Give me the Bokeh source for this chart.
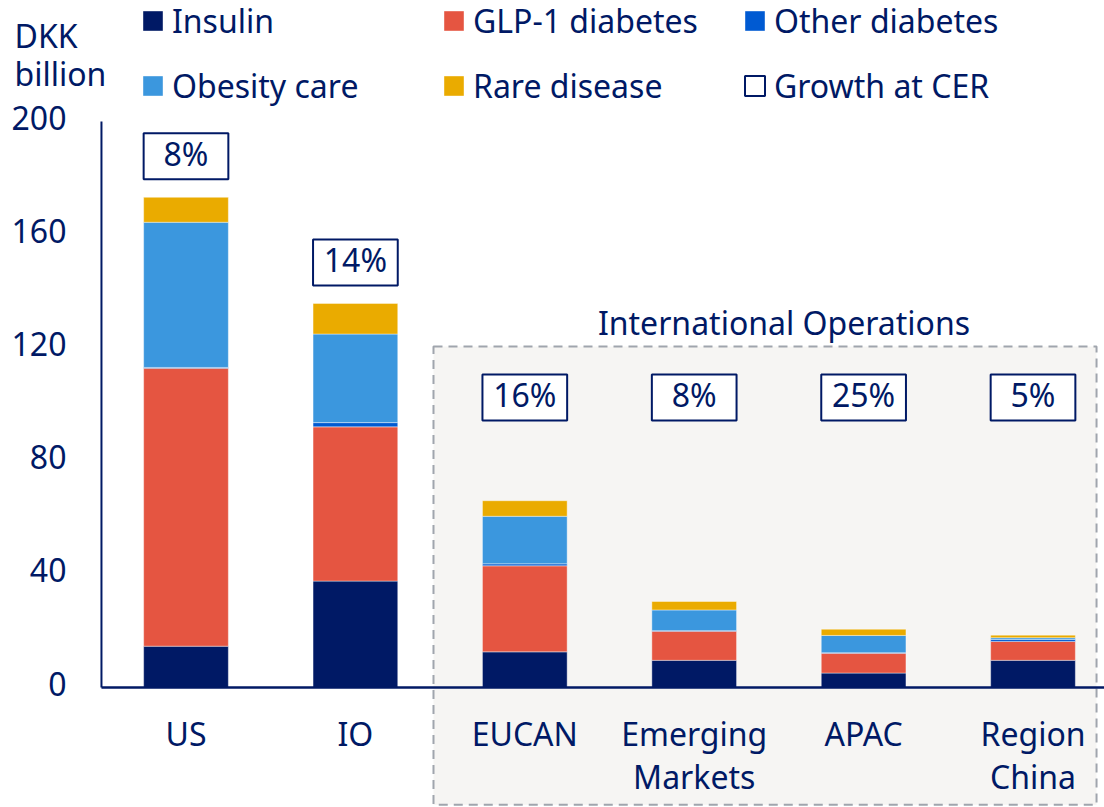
from bokeh.plotting import figure
from bokeh.models import Range1d, ColumnDataSource, Legend, LegendItem
from bokeh.embed import file_html
from bokeh.resources import INLINE
from bokeh.core.properties import value

# ---- data ----
categories = ["US", "IO", "EUCAN", "Emerging\nMarkets", "APAC", "Region\nChina"]
insulin = [14.6, 37.6, 12.6, 9.6, 5.1, 9.6]
glp1_diabetes = [98.2, 54.5, 30.4, 10.3, 7.0, 6.7]
other_diabetes = [0.3, 1.5, 0.7, 0.2, 0.2, 0.7]
obesity_care = [51.3, 31.3, 16.8, 7.3, 6.1, 0.6]
rare_disease = [8.8, 10.8, 5.5, 3.0, 2.2, 0.9]
growth_cer = ["8%", "14%", "16%", "8%", "25%", "5%"]
y_ticks = [0, 40, 80, 120, 160, 200]
y_unit = ["DKK", "billion"]
series_names = ["Insulin", "GLP-1 diabetes", "Other diabetes", "Obesity care", "Rare disease"]
growth_name = "Growth at CER"
region_title = "International Operations"

# ---- style ----
NAVY = "#001965"
COLORS = ["#001965", "#E55541", "#005AD2", "#3B97DE", "#EAAB00"]
FONT = "Noto Sans"
FS = "32px"

xs = list(range(len(categories)))
totals = [a + b + c + d + e for a, b, c, d, e in
          zip(insulin, glp1_diabetes, other_diabetes, obesity_care, rare_disease)]
# growth boxes: above bar for US/IO, on a fixed row inside International Operations
growth_y = [t + 14.5 if i < 2 else 102.5 for i, t in enumerate(totals)]
line1 = [c.split("\n")[0] for c in categories]
line2 = [c.split("\n")[1] if "\n" in c else "" for c in categories]

src = ColumnDataSource(dict(x=xs, ins=insulin, glp=glp1_diabetes, oth=other_diabetes,
                            obe=obesity_care, rar=rare_disease, gy=growth_y,
                            g=growth_cer, l1=line1, l2=line2))

W, H = 1104, 807
X0, X1 = -1.095, 5.422        # frame spans the full width
Y0, Y1 = -42.40, 242.76       # frame spans the full height
AX = -0.499                   # position of the value axis (left edge of plot area)

p = figure(width=W, height=H, output_backend="svg", toolbar_location=None,
           x_range=Range1d(X0, X1), y_range=Range1d(Y0, Y1),
           x_axis_location=None, y_axis_location=None,
           min_border_left=0, min_border_right=0, min_border_top=0, min_border_bottom=0)
p.outline_line_color = None
p.grid.visible = False
p.background_fill_color = "white"
p.border_fill_color = "white"

# International Operations region
p.quad(left=1.461, right=5.375, top=120.5, bottom=-41.4, fill_color="#F6F5F3",
       line_color="#A0A5AD", line_dash="9 6", line_width=2)
p.text(x=[3.53], y=[129.0], text=[region_title], text_align="center",
       text_baseline="alphabetic", text_font=value(FONT), text_font_size=FS, text_color=NAVY)

# stacked bars
rs = p.vbar_stack(["ins", "glp", "oth", "obe", "rar"], x="x", width=0.5, color=COLORS,
                  source=src, line_color="white", line_width=0.8, line_alpha=0.5)

# growth boxes
gr = p.rect(x="x", y="gy", width=0.5, height=46, height_units="screen", fill_color="white",
            line_color=NAVY, line_width=2, source=src)
p.text(x="x", y="gy", text="g", text_align="center", text_baseline="middle", y_offset=-3,
       text_font=value(FONT), text_font_size=FS, text_color=NAVY, source=src)

# category labels
p.text(x="x", y=-16.3, text="l1", text_align="center", text_baseline="alphabetic",
       text_font=value(FONT), text_font_size=FS, text_color=NAVY, source=src)
p.text(x="x", y=-31.5, text="l2", text_align="center", text_baseline="alphabetic",
       text_font=value(FONT), text_font_size=FS, text_color=NAVY, source=src)

# axes lines
p.segment(x0=[AX], y0=[0], x1=[X1], y1=[0], line_color=NAVY, line_width=2.5)
p.segment(x0=[AX], y0=[min(y_ticks)], x1=[AX], y1=[max(y_ticks)], line_color=NAVY,
          line_width=2)
# value axis tick labels
p.text(x=[AX] * len(y_ticks), y=y_ticks, text=[str(t) for t in y_ticks], x_offset=-35,
       y_offset=-4, text_align="right", text_baseline="middle", text_font=value(FONT),
       text_font_size=FS, text_color=NAVY)
# unit label
p.text(x=[-1.012, -1.012], y=[230.4, 217.0], text=y_unit, text_align="left",
       text_baseline="alphabetic", text_font=value(FONT), text_font_size=FS,
       text_color=NAVY)

# legends
def make_legend(items, loc):
    return Legend(items=items, orientation="horizontal", location=loc,
                  label_width=225, spacing=44, glyph_width=25, glyph_height=25,
                  label_standoff=7, padding=0, margin=0, border_line_color=None,
                  background_fill_alpha=0, label_text_font=FONT, label_text_font_size=FS,
                  label_text_color=NAVY)

leg1 = make_legend([LegendItem(label=series_names[i], renderers=[rs[i]]) for i in range(3)],
                   (140, 765))
leg2 = make_legend([LegendItem(label=series_names[3], renderers=[rs[3]]),
                    LegendItem(label=series_names[4], renderers=[rs[4]]),
                    LegendItem(label=growth_name, renderers=[gr])],
                   (140, 700))
p.add_layout(leg1)
p.add_layout(leg2)

open("out.html", "w").write(file_html(p, INLINE))
